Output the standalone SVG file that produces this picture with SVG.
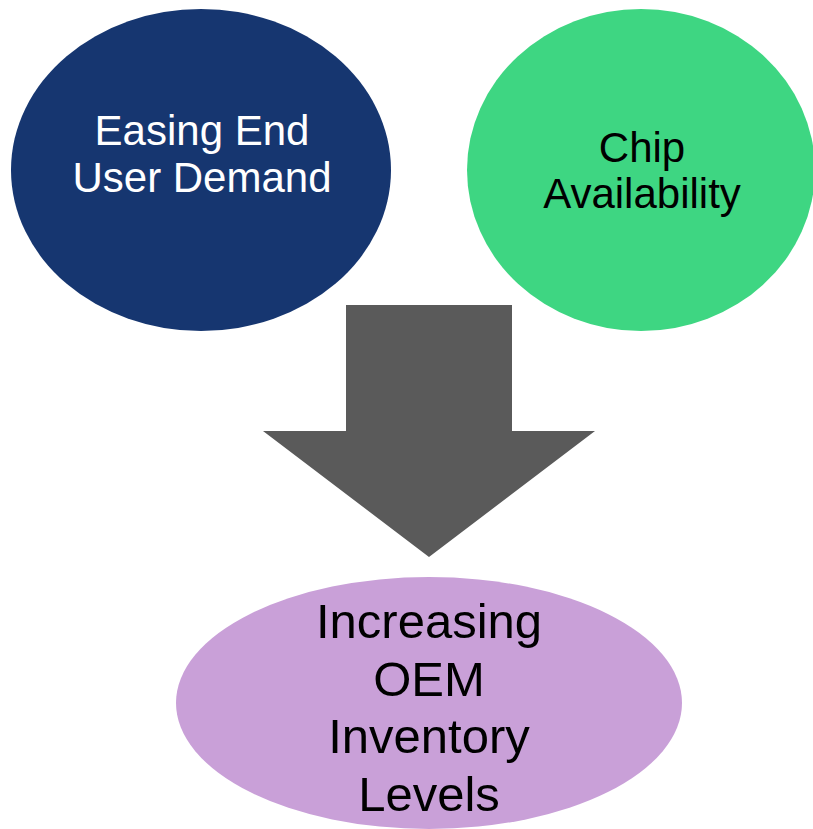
<svg xmlns="http://www.w3.org/2000/svg" width="813" height="829" viewBox="0 0 813 829">
<style>
.t{font-family:"Liberation Sans",Arial,sans-serif;text-anchor:middle}
.w{fill:#ffffff}
.k{fill:#000000}
</style>
<rect width="813" height="829" fill="#ffffff"/>
<g id="easing">
<ellipse cx="201" cy="170" rx="190" ry="161" fill="#163670"/>
<text class="t w" font-size="42" x="202" y="145">Easing End</text>
<text class="t w" font-size="42" x="202" y="192">User Demand</text>
</g>
<g id="chip">
<ellipse cx="641" cy="170" rx="174" ry="161" fill="#3ED682"/>
<text class="t k" font-size="42" x="642" y="162">Chip</text>
<text class="t k" font-size="42" x="642" y="208">Availability</text>
</g>
<g id="connectors">
<polygon points="346,305 512,305 512,431 595,431 429,557 263,431 346,431" fill="#5A5A5A"/>
</g>
<g id="inventory">
<ellipse cx="429" cy="703" rx="253" ry="126" fill="#C9A0D8"/>
<text class="t k" font-size="49" x="429" y="638">Increasing</text>
<text class="t k" font-size="49" x="429" y="696">OEM</text>
<text class="t k" font-size="49" x="429" y="753">Inventory</text>
<text class="t k" font-size="49" x="429" y="811">Levels</text>
</g>
</svg>
